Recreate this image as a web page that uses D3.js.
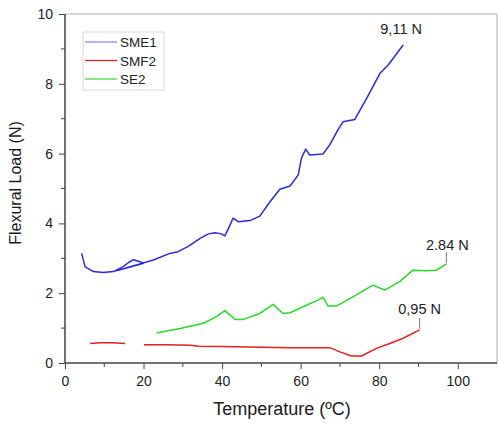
<!DOCTYPE html>
<html>
<head>
<meta charset="utf-8">
<script src="https://cdn.jsdelivr.net/npm/d3@7"></script>
<style>
  body { margin: 0; background: #fff; }
  svg { display: block; font-family: Arial, "Liberation Sans", sans-serif; }
</style>
</head>
<body>
<div id="chart"></div>
<script>
// Series: [temperature, load]
const sme1 = [
  [4.25, 3.14], [5.1, 2.76], [7.2, 2.62], [9.7, 2.59], [12.3, 2.62], [14.8, 2.76],
  [16.2, 2.88], [17.4, 2.96], [19.1, 2.90], [20.0, 2.86],
  [17.5, 2.78], [15.0, 2.70], [13.0, 2.64],
  [15.5, 2.72], [17.5, 2.79], [19.1, 2.84], [22.5, 2.95], [26.7, 3.14], [28.8, 3.19],
  [31.5, 3.35], [34.4, 3.57], [36.5, 3.70], [38.2, 3.73], [39.8, 3.70], [40.7, 3.64],
  [41.6, 3.85], [42.8, 4.15], [44.1, 4.05], [47.1, 4.08], [49.6, 4.21], [52.2, 4.62],
  [54.7, 4.98], [57.3, 5.07], [59.4, 5.39], [60.2, 5.87], [61.3, 6.13], [62.3, 5.96],
  [65.7, 5.99], [67.4, 6.25], [69.5, 6.68], [70.8, 6.91], [73.8, 6.98], [76.8, 7.58],
  [80.2, 8.30], [82.3, 8.54], [86.1, 9.11]
];
const smf2 = [
  [6.4, 0.56], [9.0, 0.58], [12.0, 0.58], [15.3, 0.56], null,
  [20.1, 0.52], [26.0, 0.52], [32.0, 0.51], [34.0, 0.48], [40.0, 0.47], [46.6, 0.46],
  [57.3, 0.44], [67.4, 0.44], [70.0, 0.32], [72.9, 0.20], [75.5, 0.20], [79.3, 0.42],
  [82.7, 0.56], [86.1, 0.71], [90.3, 0.95]
];
const se2 = [
  [23.3, 0.86], [29.3, 0.99], [35.2, 1.14], [38.6, 1.33], [40.7, 1.50], [43.3, 1.25],
  [45.4, 1.25], [49.6, 1.42], [53.0, 1.68], [55.5, 1.42], [57.3, 1.44], [59.8, 1.57],
  [64.5, 1.81], [65.7, 1.88], [67.0, 1.63], [69.1, 1.63], [74.2, 1.95], [78.4, 2.23],
  [81.4, 2.09], [85.2, 2.33], [88.6, 2.66], [92.0, 2.64], [94.6, 2.66], [97.1, 2.84]
];
const seriesNames = ["SME1", "SMF2", "SE2"];
const seriesColors = ["#2b2bd8", "#e02222", "#2ad82a"];
const legendColors = ["#8a8aee", "#e02222", "#44dd44"];
const xTicks = [0, 20, 40, 60, 80, 100];
const yTicks = [0, 2, 4, 6, 8, 10];
const xMinor = [10, 30, 50, 70, 90];
const yMinor = [1, 3, 5, 7, 9];
const endLabels = ["9,11 N", "0,95 N", "2.84 N"];

const width = 498, height = 424;
const margin = { top: 14, right: 1, bottom: 61, left: 65 };

const svg = d3.select("#chart").append("svg")
    .attr("width", width)
    .attr("height", height);

const x = d3.scaleLinear().domain([0, 110]).range([margin.left, width - margin.right]);
const y = d3.scaleLinear().domain([0, 10]).range([height - margin.bottom, margin.top]);

// light frame on top and right
svg.append("path")
    .attr("d", `M${x(0)},${y(10)}H${x(110)}V${y(0)}`)
    .attr("fill", "none")
    .attr("stroke", "#c8c8c8")
    .attr("stroke-width", 1.5);

// axes
const xAxis = svg.append("g")
    .attr("transform", `translate(0,${y(0)})`)
    .call(d3.axisBottom(x).tickValues(xTicks).tickSize(6).tickPadding(7));
xAxis.append("g").selectAll("line").data(xMinor).join("line")
    .attr("x1", d => x(d)).attr("x2", d => x(d))
    .attr("y1", 0).attr("y2", 4)
    .attr("stroke", "#444");

const yAxis = svg.append("g")
    .attr("transform", `translate(${x(0)},0)`)
    .call(d3.axisLeft(y).tickValues(yTicks).tickSize(6).tickPadding(6));
yAxis.append("g").selectAll("line").data(yMinor).join("line")
    .attr("y1", d => y(d)).attr("y2", d => y(d))
    .attr("x1", 0).attr("x2", -4)
    .attr("stroke", "#444");

svg.selectAll(".domain").attr("stroke", "#444").attr("stroke-width", 1.5);
svg.selectAll(".tick line").attr("stroke", "#444");
svg.selectAll(".tick text")
    .style("font-size", "14px")
    .style("font-family", "Arial, 'Liberation Sans', sans-serif")
    .attr("fill", "#222");
xAxis.select(".domain").attr("d", `M${x(0)},0H${x(110)}`);
yAxis.select(".domain").attr("d", `M0,${y(0)}V${y(10)}`);

// axis titles
svg.append("text")
    .attr("x", 282)
    .attr("y", 415)
    .attr("text-anchor", "middle")
    .style("font-size", "18px")
    .attr("fill", "#1a1a1a")
    .text("Temperature (ºC)");

svg.append("text")
    .attr("transform", "translate(20.5,183) rotate(-90)")
    .attr("text-anchor", "middle")
    .style("font-size", "16px")
    .attr("fill", "#1a1a1a")
    .text("Flexural Load (N)");

// lines
const line = d3.line()
    .defined(d => d !== null)
    .x(d => x(d[0]))
    .y(d => y(d[1]));

[sme1, smf2, se2].forEach((data, i) => {
    svg.append("path")
        .datum(data)
        .attr("fill", "none")
        .attr("stroke", seriesColors[i])
        .attr("stroke-width", 1.5)
        .attr("stroke-linejoin", "round")
        .attr("d", line);
});

// end labels
const ends = [sme1[sme1.length - 1], smf2[smf2.length - 1], se2[se2.length - 1]];
const labelOffsets = [[-2, -11, false], [0, -15.5, true], [1, -14, true]];
ends.forEach((d, i) => {
    const [dx, dy, leader] = labelOffsets[i];
    if (leader) {
        svg.append("line")
            .attr("x1", x(d[0])).attr("x2", x(d[0]))
            .attr("y1", y(d[1]) - 1).attr("y2", y(d[1]) - 12)
            .attr("stroke", "#777");
    }
    svg.append("text")
        .attr("x", x(d[0]) + dx)
        .attr("y", y(d[1]) + dy)
        .attr("text-anchor", "middle")
        .style("font-size", "14.5px")
        .attr("fill", "#222")
        .text(endLabels[i]);
});

// legend
const legend = svg.append("g").attr("transform", "translate(83,32)");
legend.append("rect")
    .attr("width", 81).attr("height", 58)
    .attr("fill", "#fff")
    .attr("stroke", "#d8d8d8");
seriesNames.forEach((name, i) => {
    const ly = 10 + i * 18.5;
    legend.append("line")
        .attr("x1", 2).attr("x2", 34)
        .attr("y1", ly).attr("y2", ly)
        .attr("stroke", legendColors[i])
        .attr("stroke-width", 1.3);
    legend.append("text")
        .attr("x", 37).attr("y", ly + 5)
        .style("font-size", "13.5px")
        .attr("fill", "#222")
        .text(name);
});
</script>
</body>
</html>
